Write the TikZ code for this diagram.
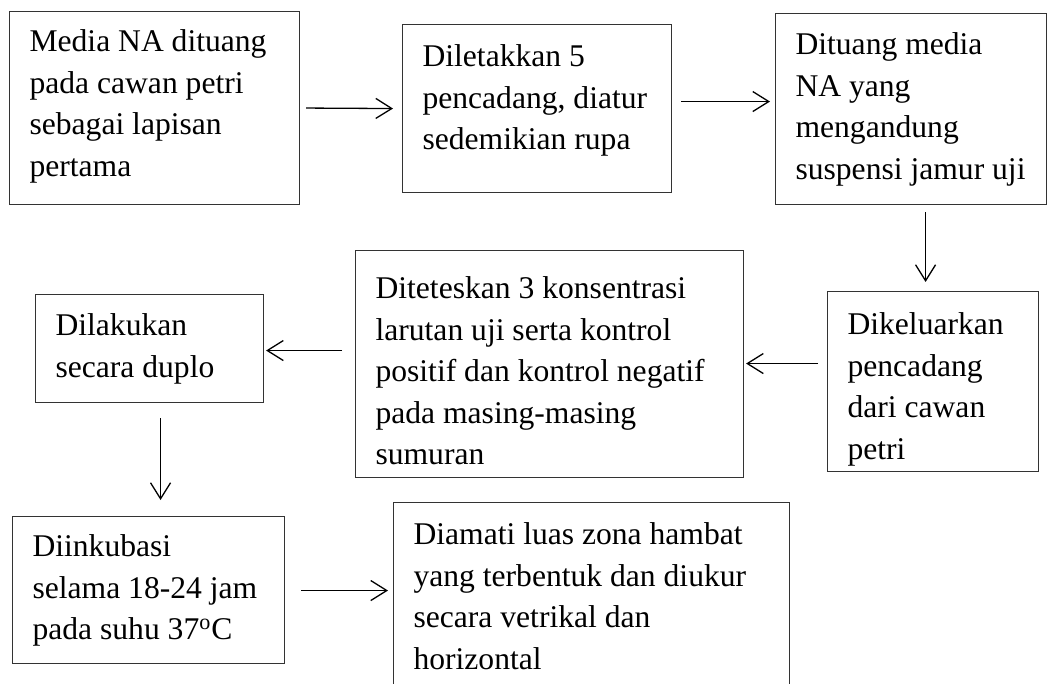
\documentclass[tikz,border=0pt]{standalone}
\usepackage{fontspec}
\setmainfont{Liberation Serif}
\usetikzlibrary{arrows.meta,calc}
\newcommand{\boxtxt}[4]{\parbox[c][#1][t]{#2}{\raggedright\vspace*{#3}#4}}
\tikzset{
  stepbox/.style={draw=black!80, line width=0.55pt, anchor=north west,
    inner xsep=10pt, inner ysep=0pt,
    font=\fontsize{15.8pt}{20.75pt}\selectfont},
  arr/.style={-{Straight Barb[length=8pt,width=10pt]}, line width=0.65pt}
}
\begin{document}
\begin{tikzpicture}[x=0.5pt,y=-0.5pt]
\clip (0,0) rectangle (1049,684);
\fill[white] (0,0) rectangle (1049,684);

\node[stepbox] (b1) at (9,11) {\boxtxt{96.5pt}{125pt}{9.2pt}{%
  \mbox{Media NA dituang}\\ \mbox{pada cawan petri}\\ \mbox{sebagai lapisan}\\ \mbox{pertama}}};
\node[stepbox] (b2) at (402,24) {\boxtxt{84pt}{114.5pt}{10.2pt}{%
  \mbox{Diletakkan 5}\\ \mbox{pencadang, diatur}\\ \mbox{sedemikian rupa}}};
\node[stepbox] (b3) at (775,13) {\boxtxt{95.5pt}{115.5pt}{9.7pt}{%
  \mbox{Dituang media}\\ \mbox{NA yang}\\ \mbox{mengandung}\\ \mbox{suspensi jamur uji}}};
\node[stepbox] (b4) at (827,291) {\boxtxt{90pt}{85.5pt}{10.7pt}{%
  \mbox{Dikeluarkan}\\ \mbox{pencadang}\\ \mbox{dari cawan}\\ \mbox{petri}}};
\node[stepbox] (b5) at (355,250) {\boxtxt{113.5pt}{174pt}{13.2pt}{%
  \mbox{Diteteskan 3 konsentrasi}\\ \mbox{larutan uji serta kontrol}\\ \mbox{positif dan kontrol negatif}\\ \mbox{pada masing-masing}\\ \mbox{sumuran}}};
\node[stepbox] (b6) at (35,294) {\boxtxt{54pt}{94pt}{9.7pt}{%
  \mbox{Dilakukan}\\ \mbox{secara duplo}}};
\node[stepbox] (b7) at (12,516) {\boxtxt{73.5pt}{116pt}{9.2pt}{%
  \mbox{Diinkubasi}\\ \mbox{selama 18-24 jam}\\ \mbox{pada suhu 37\textsuperscript{o}C}}};
\node[stepbox] (b8) at (393,502) {\boxtxt{100pt}{178pt}{10.2pt}{%
  \mbox{Diamati luas zona hambat}\\ \mbox{yang terbentuk dan diukur}\\ \mbox{secara vetrikal dan}\\ \mbox{horizontal}}};

\draw[arr] ($(b1.east)+(6,0)$) -- ($(b2.west)+(-9,0)$);
\draw[arr] ($(b2.east)+(9,-7)$) -- ($(b3.west)+(-5,-7.5)$);
\draw[arr] ($(b3.south)+(14.5,7)$) -- ($(b4.north)+(-7.5,-9)$);
\draw[arr] ($(b4.west)+(-9,-18)$) -- ($(b5.east)+(2,-0.5)$);
\draw[arr] ($(b5.west)+(-13,-13.5)$) -- ($(b6.east)+(2,2)$);
\draw[arr] ($(b6.south)+(11,15)$) -- ($(b7.north)+(12,-16)$);
\draw[arr] ($(b7.east)+(16,0.5)$) -- ($(b8.west)+(-5,-12)$);
\end{tikzpicture}
\end{document}
